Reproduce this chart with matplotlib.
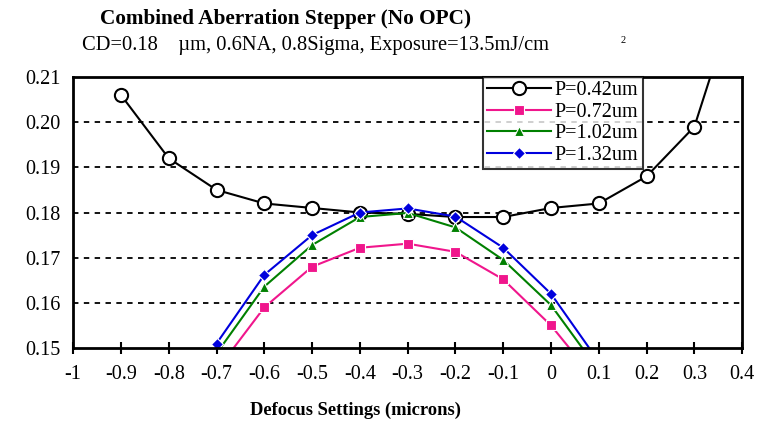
import matplotlib.pyplot as plt

plt.rcParams['font.family'] = ['Liberation Serif', 'DejaVu Serif']

defocus = [-0.9, -0.8, -0.7, -0.6, -0.5, -0.4, -0.3, -0.2, -0.1, 0.0, 0.1, 0.2, 0.3, 0.4]
cd_042 = [0.206, 0.192, 0.185, 0.182, 0.181, 0.180, 0.1797, 0.179, 0.179, 0.181, 0.182, 0.188, 0.199, 0.232]

defocus_dense = [-0.7, -0.6, -0.5, -0.4, -0.3, -0.2, -0.1, 0.0, 0.1]
cd_072 = [0.145, 0.159, 0.168, 0.1722, 0.1731, 0.1713, 0.1652, 0.155, 0.142]
cd_102 = [0.1488, 0.1636, 0.1728, 0.179, 0.1799, 0.1767, 0.1695, 0.1595, 0.145]
cd_132 = [0.1510, 0.1662, 0.1750, 0.1800, 0.1809, 0.1791, 0.1722, 0.1620, 0.147]

fig = plt.figure(figsize=(7.62, 4.25), dpi=100)
ax = fig.add_axes([0.096, 0.181, 0.878, 0.638])

ax.plot(defocus, cd_042, color='black', lw=1.5, marker='o', ms=9.5,
        mfc='white', mec='black', mew=1.5, label='P=0.42um')
ax.plot(defocus_dense, cd_072, color='#F0168C', lw=1.5, marker='s', ms=6.5,
        mfc='#F0168C', mec='white', mew=0.8, label='P=0.72um')
ax.plot(defocus_dense, cd_102, color='#008000', lw=1.5, marker='^', ms=7.5,
        mfc='#008000', mec='white', mew=0.8, label='P=1.02um')
ax.plot(defocus_dense, cd_132, color='#0000DD', lw=1.5, marker='D', ms=6.5,
        mfc='#0000DD', mec='white', mew=0.8, label='P=1.32um')

ax.set_xlim(-1, 0.4)
ax.set_ylim(0.15, 0.21)
ax.set_xticks([-1, -0.9, -0.8, -0.7, -0.6, -0.5, -0.4, -0.3, -0.2, -0.1, 0, 0.1, 0.2, 0.3, 0.4])
ax.set_xticklabels(['-1', '-0.9', '-0.8', '-0.7', '-0.6', '-0.5', '-0.4', '-0.3', '-0.2',
                    '-0.1', '0', '0.1', '0.2', '0.3', '0.4'])
ax.set_yticks([0.15, 0.16, 0.17, 0.18, 0.19, 0.20, 0.21])
ax.set_yticklabels(['0.15', '0.16', '0.17', '0.18', '0.19', '0.20', '0.21'])
ax.tick_params(axis='x', direction='inout', length=8, width=1.5, labelsize=14.5, pad=8)
ax.tick_params(axis='y', length=0, labelsize=14.5, pad=9)
for s in ax.spines.values():
    s.set_linewidth(2)

# dashed horizontal gridlines between the top and bottom spines
for y in [0.16, 0.17, 0.18, 0.19, 0.20]:
    ax.axhline(y, color='black', lw=1.3, ls=(0, (3, 3)), zorder=0)

leg = ax.legend(loc='upper left', bbox_to_anchor=(0.612, 1.0), fontsize=14.5,
                frameon=True, fancybox=False, handlelength=3.2, borderpad=0.22,
                labelspacing=0.12, handletextpad=0.15, borderaxespad=0)
leg.get_frame().set_edgecolor('black')
leg.get_frame().set_linewidth(1.5)

fig.text(0.131, 0.955, 'Combined Aberration Stepper (No OPC)', fontsize=15.3,
         fontweight='bold', ha='left', va='center')
fig.text(0.108, 0.893, 'CD=0.18    \u00b5m, 0.6NA, 0.8Sigma, Exposure=13.5mJ/cm',
         fontsize=14.8, ha='left', va='center')
fig.text(0.815, 0.905, '2', fontsize=7.5, ha='left', va='center')
fig.text(0.467, 0.035, 'Defocus Settings (microns)', fontsize=13.3,
         fontweight='bold', ha='center', va='center')

fig.savefig('out.png', dpi=100)
